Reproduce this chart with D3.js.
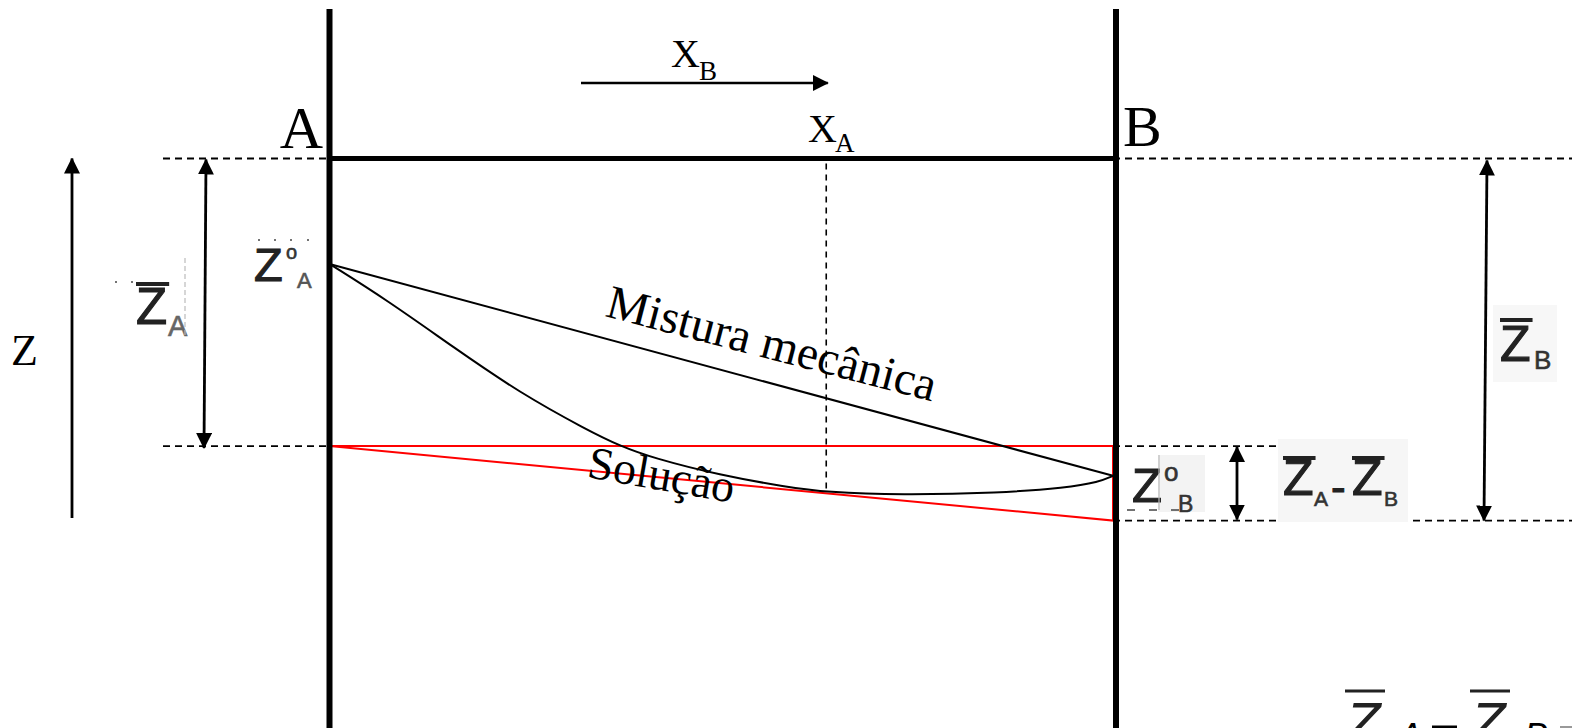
<!DOCTYPE html>
<html>
<head>
<meta charset="utf-8">
<script src="https://cdn.jsdelivr.net/npm/d3@7"></script>
<style>
  body { margin: 0; background: #fff; }
  svg { display: block; }
</style>
</head>
<body>
<div id="chart"></div>
<script>
// composition axis: 0 = pure A, 1 = pure B ; Z: 0 at the top reference line, going negative downwards
const wallX = [0, 1];
const mixX = [0, 1],
      mixZ = [-29.0, -87.3];               // Z°A -> Z°B, mistura mecânica
const solX = [0, 0.073, 0.158, 0.243, 0.329, 0.371, 0.413, 0.498, 0.584, 0.634, 0.728, 0.855, 0.940, 0.982, 1],
      solZ = [-29.0, -38.9, -51.9, -64.5, -74.7, -79.1, -82.4, -87.1, -90.4, -91.8, -92.6, -92.0, -90.6, -89.0, -87.3];
const tanX = [0, 1],
      tanZ = [-79.1, -99.6];               // tangent at xA -> Z̄A , Z̄B
const refZ = 0, zBarA = -79.1, zBarB = -99.6;
const xA = 0.634, xBarrow = [0.321, 0.636];

var width = 1572, height = 728;

var x = d3.scaleLinear().domain([0, 1]).range([329.5, 1113]);
var z = d3.scaleLinear().domain([0, -100]).range([158.5, 522]);

var svg = d3.select("#chart").append("svg")
    .attr("width", width)
    .attr("height", height);

var defs = svg.append("defs");
defs.append("marker")
    .attr("id", "head")
    .attr("markerUnits", "userSpaceOnUse")
    .attr("viewBox", "0 0 16 16")
    .attr("refX", 15).attr("refY", 8)
    .attr("markerWidth", 16).attr("markerHeight", 16)
    .attr("orient", "auto-start-reverse")
  .append("path")
    .attr("d", "M0,0L16,8L0,16Z")
    .attr("fill", "#000");

var line = d3.line().x(d => x(d[0])).y(d => z(d[1]));

// dashed reference levels
var dashes = [
  [163, x(0), refZ], [x(1), width, refZ],
  [163, x(0), zBarA], [x(1), 1278, zBarA],
  [x(1), width, zBarB]
];
svg.append("g").selectAll("line").data(dashes).enter().append("line")
    .attr("x1", d => d[0]).attr("x2", d => d[1])
    .attr("y1", d => z(d[2])).attr("y2", d => z(d[2]))
    .attr("stroke", "#000").attr("stroke-width", 1.8)
    .attr("stroke-dasharray", "7,5");

// vertical dashed at xA
svg.append("line")
    .attr("x1", x(xA)).attr("x2", x(xA))
    .attr("y1", z(refZ) + 5).attr("y2", z(solZ[solX.indexOf(xA)]))
    .attr("stroke", "#000").attr("stroke-width", 1.6)
    .attr("stroke-dasharray", "6,5");

// red tangent triangle
svg.append("path")
    .attr("d", "M" + x(0) + "," + z(zBarA) + "L" + x(1) + "," + z(zBarA) +
               "L" + x(1) + "," + z(tanZ[1]) + "Z")
    .attr("fill", "none").attr("stroke", "#f00").attr("stroke-width", 2);

// mistura mecânica
svg.append("path")
    .attr("d", line(d3.zip(mixX, mixZ)))
    .attr("fill", "none").attr("stroke", "#000").attr("stroke-width", 2);

// solução
svg.append("path")
    .attr("d", line.curve(d3.curveBasis)(d3.zip(solX, solZ)))
    .attr("fill", "none").attr("stroke", "#000").attr("stroke-width", 2);

// walls and top
svg.append("g").selectAll("line").data(wallX).enter().append("line")
    .attr("x1", (d, i) => x(d) + i * 3).attr("x2", (d, i) => x(d) + i * 3)
    .attr("y1", 9).attr("y2", height)
    .attr("stroke", "#000").attr("stroke-width", 6);
svg.append("line")
    .attr("x1", x(0)).attr("x2", x(1) + 3)
    .attr("y1", z(refZ)).attr("y2", z(refZ))
    .attr("stroke", "#000").attr("stroke-width", 5);

// arrows
function arrow(x1, y1, x2, y2, both, sw) {
  var a = svg.append("line")
      .attr("x1", x1).attr("y1", y1).attr("x2", x2).attr("y2", y2)
      .attr("stroke", "#000").attr("stroke-width", sw || 2.8)
      .attr("marker-end", "url(#head)");
  if (both) a.attr("marker-start", "url(#head)");
}
arrow(72, 518, 72, z(refZ), false);
arrow(206, z(refZ) + 1, 204, z(zBarA) + 2, true);
arrow(x(xBarrow[0]), 83, x(xBarrow[1]), 83, false, 2.6);
arrow(1237, z(zBarA) + 1, 1237, z(zBarB) - 1, true);
arrow(1487, z(refZ) + 2, 1484, z(zBarB), true);

// serif labels
var serif = "'Liberation Serif', 'Times New Roman', serif";
function stext(t, px, py, size, anchor) {
  return svg.append("text").attr("x", px).attr("y", py)
      .attr("font-family", serif).attr("font-size", size)
      .attr("text-anchor", anchor || "start").text(t);
}
stext("A", 323, 148, 60, "end");
stext("B", 1123, 146, 58);
stext("X", 671, 67, 40); stext("B", 699, 80, 27);
stext("X", 808, 142, 40); stext("A", 835, 152, 27);
stext("Z", 11, 365, 44);
stext("Mistura mecânica", 0, 0, 47.5)
    .attr("transform", "translate(604,316) rotate(14.6)");
stext("Solução", 0, 0, 46)
    .attr("transform", "translate(586,477) rotate(10)");

// sans labels (pasted images in the original)
var sans = "'Liberation Sans', Arial, sans-serif";
function ztext(px, py, size, opts) {
  var g = svg.append("g");
  var t = g.append("text").attr("x", px).attr("y", py)
      .attr("font-family", sans).attr("font-size", size)
      .attr("fill", "#222").attr("stroke", "#222").attr("stroke-width", opts.italic ? 0 : 1.1)
      .attr("font-style", opts.italic ? "italic" : null)
      .text("Z");
  var bb = t.node().getBBox();
  if (opts.bar) {
    g.append("line")
        .attr("x1", bb.x + (opts.italic ? 2 : 0)).attr("x2", bb.x + bb.width + 2)
        .attr("y1", opts.bar).attr("y2", opts.bar)
        .attr("stroke", "#222").attr("stroke-width", opts.barW || 4);
  }
  if (opts.sup) {
    g.append("text").attr("x", opts.sup[0]).attr("y", opts.sup[1])
        .attr("font-family", sans).attr("font-size", opts.sup[2])
        .attr("fill", "#333").attr("stroke", "#333").attr("stroke-width", 0.6).text("o");
  }
  if (opts.sub) {
    g.append("text").attr("x", opts.sub[0]).attr("y", opts.sub[1])
        .attr("font-family", sans).attr("font-size", opts.sub[2])
        .attr("font-style", opts.italic ? "italic" : null)
        .attr("fill", opts.subFill || "#333")
        .attr("stroke", opts.italic ? null : (opts.subFill || "#333"))
        .attr("stroke-width", 0.6).text(opts.sub[3]);
  }
  return g;
}

// light backgrounds
var boxes = [[1158, 455, 47, 57, "#f3f3f3"], [1278, 439, 130, 83, "#f6f6f6"], [1493, 305, 64, 77, "#f7f7f7"]];
svg.append("g").selectAll("rect").data(boxes).enter().append("rect")
    .attr("x", d => d[0]).attr("y", d => d[1])
    .attr("width", d => d[2]).attr("height", d => d[3])
    .attr("fill", d => d[4]);

// Z°A
ztext(254, 281, 47, { sup: [286, 259, 20], sub: [297, 288, 22, "A"], subFill: "#555" });
svg.append("g").selectAll("circle").data([259, 275, 291, 308]).enter().append("circle")
    .attr("cx", d => d).attr("cy", 240).attr("r", 1).attr("fill", "#444");

// Z̄A
ztext(136, 324, 51, { bar: 284, sub: [168, 336, 29, "A"], subFill: "#666" });
svg.append("g").selectAll("circle").data([116, 132]).enter().append("circle")
    .attr("cx", d => d).attr("cy", 282).attr("r", 1).attr("fill", "#444");
svg.append("line").attr("x1", 185).attr("x2", 185).attr("y1", 258).attr("y2", 337)
    .attr("stroke", "#bbb").attr("stroke-width", 1.2).attr("stroke-dasharray", "5,3");

// Z°B
ztext(1132, 502, 49, { sup: [1164, 481, 26], sub: [1178, 512, 23, "B"] });
svg.append("line").attr("x1", 1159).attr("x2", 1159).attr("y1", 455).attr("y2", 510)
    .attr("stroke", "#bbb").attr("stroke-width", 1.2);
svg.append("line").attr("x1", 1127).attr("x2", 1182).attr("y1", 510).attr("y2", 510)
    .attr("stroke", "#444").attr("stroke-width", 1.5).attr("stroke-dasharray", "8,14");

// Z̄A-Z̄B
ztext(1283, 495, 50, { bar: 458, sub: [1314, 506, 21, "A"] });
svg.append("text").attr("x", 1331).attr("y", 502).attr("font-family", sans)
    .attr("font-size", 44).attr("fill", "#222").attr("stroke", "#222").attr("stroke-width", 1).text("-");
ztext(1352, 495, 50, { bar: 458, sub: [1384, 506, 21, "B"] });

// Z̄B
ztext(1500, 361, 50, { bar: 320, sub: [1534, 369, 26, "B"] });

// formula at the bottom right (cut by the page edge, as in the original)
ztext(1345, 743, 58, { italic: true, bar: 691, barW: 3, sub: [1398, 749, 36, "A"], subFill: "#000" });
svg.append("line").attr("x1", 1432).attr("x2", 1457).attr("y1", 727).attr("y2", 727)
    .attr("stroke", "#000").attr("stroke-width", 3);
ztext(1470, 743, 58, { italic: true, bar: 691, barW: 3, sub: [1524, 749, 36, "B"], subFill: "#000" });
svg.append("line").attr("x1", 1560).attr("x2", 1572).attr("y1", 727).attr("y2", 727)
    .attr("stroke", "#999").attr("stroke-width", 2);
</script>
</body>
</html>
